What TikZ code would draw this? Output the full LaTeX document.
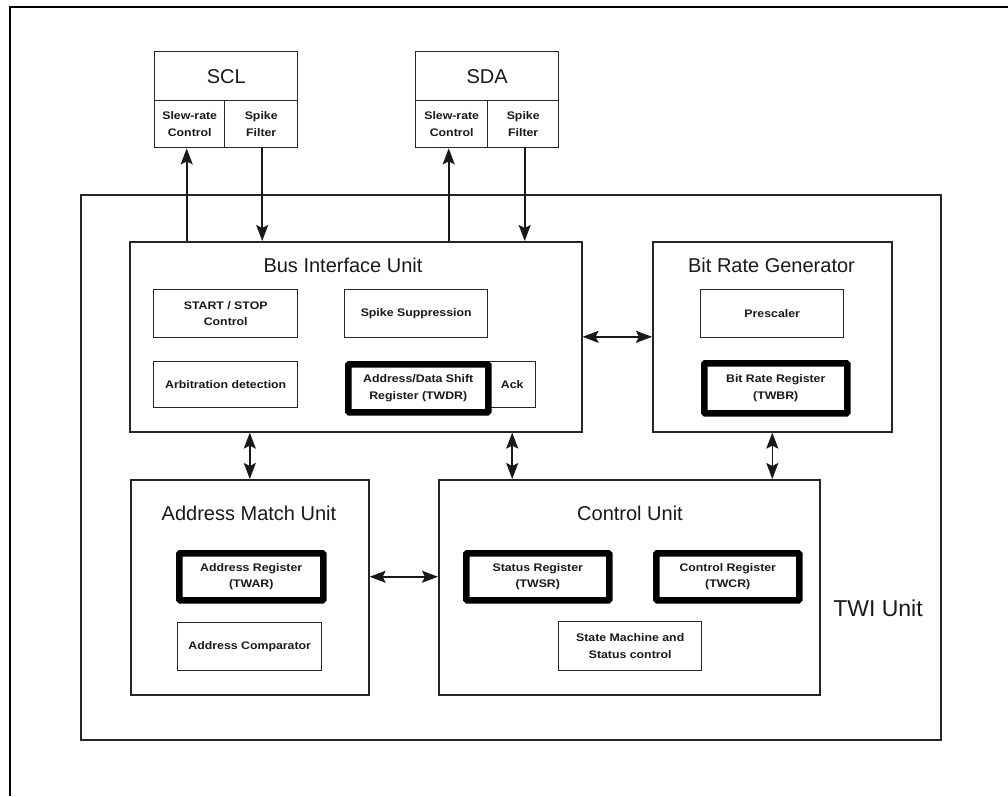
\documentclass[tikz,border=0pt]{standalone}
\usepackage{fontspec}
\setmainfont{Liberation Sans}
\newfontfamily\smallf{Liberation Sans}[FakeStretch=1.12]
\usetikzlibrary{arrows.meta}
\begin{document}
\begin{tikzpicture}[x=1pt,y=-1pt,
  thinbox/.style={draw=black!85,line width=1.4pt,inner sep=0pt,anchor=north west,align=center,
    font=\smallf\bfseries\fontsize{11}{16.5}\selectfont,text=black!90},
  thickbox/.style={thinbox,line width=6.5pt,draw=black,rounded corners=1pt},
  unitbox/.style={draw=black!85,line width=1.6pt,inner sep=0pt,anchor=north west},
  ttl/.style={font=\fontsize{20}{24}\selectfont,text=black!90,inner sep=0pt},
  tip/.tip={Stealth[length=16pt,width=12pt,inset=3pt]},
  conn/.style={line width=1.6pt,draw=black!90,tip-tip},
  up/.style={line width=1.6pt,draw=black!90,-tip}
]
\useasboundingbox (0,0) rectangle (1008,796);
% outer frame
\draw[line width=2.5pt,black] (10,796) -- (10,7) -- (1010,7);

% pads
\node[thinbox,minimum width=143pt,minimum height=49pt,font=\fontsize{20}{24}\selectfont] (SCL) at (154,51) {SCL};
\node[thinbox,minimum width=70pt,minimum height=47pt] (slewSCL) at (154,100) {Slew-rate\\Control};
\node[thinbox,minimum width=73pt,minimum height=47pt] (spikeSCL) at (224,100) {Spike\\Filter};
\node[thinbox,minimum width=143pt,minimum height=49pt,font=\fontsize{20}{24}\selectfont] (SDA) at (415,51) {SDA};
\node[thinbox,minimum width=72pt,minimum height=47pt] (slewSDA) at (415,100) {Slew-rate\\Control};
\node[thinbox,minimum width=71pt,minimum height=47pt] (spikeSDA) at (487,100) {Spike\\Filter};

% TWI unit
\node[unitbox,minimum width=860pt,minimum height=545pt] (TWI) at (80,194) {};
\node[ttl,font=\fontsize{23}{26}\selectfont] (TWIlbl) at (878,608) {TWI Unit};

% Bus Interface Unit
\node[unitbox,minimum width=452pt,minimum height=190pt] (BIU) at (129,241) {};
\node[ttl] (BIUt) at (343,265) {Bus Interface Unit};
\node[thinbox,minimum width=144pt,minimum height=48pt] (ss) at (153,289) {START / STOP\\Control};
\node[thinbox,minimum width=143pt,minimum height=48pt] (spk) at (344,289) {Spike Suppression};
\node[thinbox,minimum width=144pt,minimum height=46pt] (arb) at (153,361) {Arbitration detection};
\node[thinbox,minimum width=47pt,minimum height=46pt] (Ack) at (488,361) {Ack};
\node[thickbox,minimum width=140pt,minimum height=48pt] (TWDR) at (345,361) {Address/Data Shift\\Register (TWDR)};

% Bit Rate Generator
\node[unitbox,minimum width=239pt,minimum height=190pt] (BRG) at (652,241) {};
\node[ttl] (BRGt) at (771.5,265) {Bit Rate Generator};
\node[thinbox,minimum width=143pt,minimum height=48pt] (presc) at (700,289) {Prescaler};
\node[thickbox,minimum width=143pt,minimum height=50pt] (TWBR) at (701,360) {Bit Rate Register\\(TWBR)};

% Address Match Unit
\node[unitbox,minimum width=238pt,minimum height=215pt] (AMU) at (130,479) {};
\node[ttl] (AMUt) at (249,513) {Address Match Unit};
\node[thickbox,minimum width=144pt,minimum height=47pt] (TWAR) at (176,550) {Address Register\\(TWAR)};
\node[thinbox,minimum width=144pt,minimum height=48pt] (comp) at (177,622) {Address Comparator};

% Control Unit
\node[unitbox,minimum width=381pt,minimum height=215pt] (CU) at (438,479) {};
\node[ttl] (CUt) at (630,513) {Control Unit};
\node[thickbox,minimum width=143pt,minimum height=47pt] (TWSR) at (463,550) {Status Register\\(TWSR)};
\node[thickbox,minimum width=143pt,minimum height=47pt] (TWCR) at (653,550) {Control Register\\(TWCR)};
\node[thinbox,minimum width=143pt,minimum height=49pt] (sm) at (558,621) {State Machine and\\Status control};

% connectors
\draw[up] ([xshift=-3pt]slewSCL.south |- BIU.north) -- ([xshift=-3pt]slewSCL.south);
\draw[up] ([xshift=1pt]spikeSCL.south) -- ([xshift=1pt]spikeSCL.south |- BIU.north);
\draw[up] ([xshift=-3pt]slewSDA.south |- BIU.north) -- ([xshift=-3pt]slewSDA.south);
\draw[up] ([xshift=1.5pt]spikeSDA.south) -- ([xshift=1.5pt]spikeSDA.south |- BIU.north);
\draw[conn] (BIU.east) -- (BIU.east -| BRG.west);
\draw[conn] (BIU.south -| AMU.north) -- (AMU.north);
\draw[conn] (Ack.south |- BIU.south) -- (Ack.south |- CU.north);
\draw[conn] (BRG.south) -- (BRG.south |- CU.north);
\draw[conn] (TWAR.east -| AMU.east) -- (TWAR.east -| CU.west);
\end{tikzpicture}
\end{document}
